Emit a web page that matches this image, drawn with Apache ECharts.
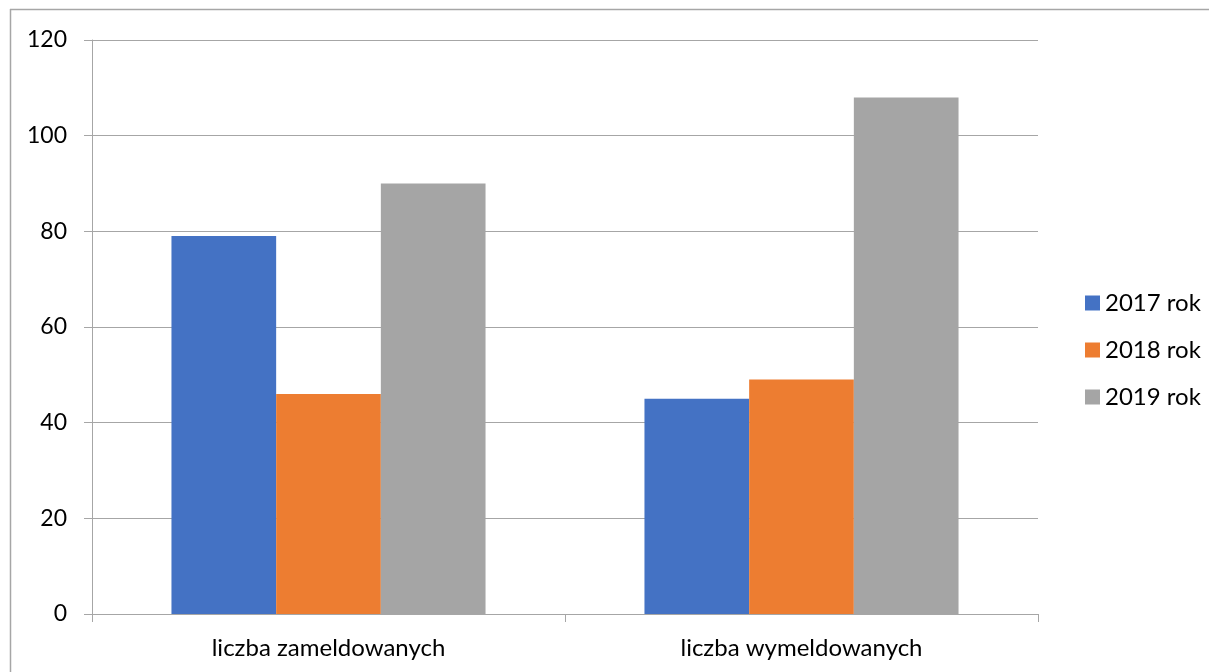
<!DOCTYPE html>
<html>
<head>
<meta charset="utf-8">
<script src="https://cdn.jsdelivr.net/npm/echarts@6/dist/echarts.min.js"></script>
<style>
html,body{margin:0;padding:0;background:#fff;}
#c{width:1209px;height:672px;}
</style>
</head>
<body>
<div id="c"></div>
<script>
const categories = ['liczba zameldowanych', 'liczba wymeldowanych'];
const seriesNames = ['2017 rok', '2018 rok', '2019 rok'];
const values2017 = [79, 45];
const values2018 = [46, 49];
const values2019 = [90, 108];
const yTicks = { min: 0, max: 120, interval: 20 };
const colors = ['#4472C4', '#ED7D31', '#A5A5A5'];

const chart = echarts.init(document.getElementById('c'), null, { renderer: 'canvas' });
const font = 'Lato';
const lineColor = '#a6a6a6';
const dataSets = [values2017, values2018, values2019];

chart.setOption({
  animation: false,
  backgroundColor: '#ffffff',
  textStyle: { fontFamily: font },
  graphic: [
    { type: 'line', shape: { x1: 10, y1: 9.5, x2: 1209, y2: 9.5 }, style: { stroke: '#a6a6a6', lineWidth: 1.5 } },
    { type: 'line', shape: { x1: 10.5, y1: 9, x2: 10.5, y2: 672 }, style: { stroke: '#a6a6a6', lineWidth: 1.5 } }
  ],
  grid: { left: 92, right: 171, top: 40, bottom: 58, containLabel: false },
  legend: {
    orient: 'vertical',
    left: 1080,
    top: 286,
    itemWidth: 15,
    itemHeight: 15,
    itemGap: 23,
    icon: 'rect',
    data: seriesNames,
    textStyle: { fontFamily: font, fontSize: 24, color: '#000' }
  },
  xAxis: {
    type: 'category',
    data: categories,
    axisLine: { show: true, lineStyle: { color: lineColor, width: 1 } },
    axisTick: { show: true, alignWithLabel: false, length: 8, lineStyle: { color: lineColor } },
    axisLabel: { fontFamily: font, fontSize: 24, color: '#000', margin: 22 },
    splitLine: { show: false }
  },
  yAxis: {
    type: 'value',
    min: yTicks.min, max: yTicks.max, interval: yTicks.interval,
    axisLine: { show: true, lineStyle: { color: lineColor, width: 1 } },
    axisTick: { show: true, length: 8, lineStyle: { color: lineColor } },
    axisLabel: { fontFamily: font, fontSize: 23, color: '#000', margin: 25 },
    splitLine: { show: true, lineStyle: { color: lineColor, width: 1 } }
  },
  series: seriesNames.map((n, i) => ({
    name: n,
    type: 'bar',
    data: dataSets[i],
    barGap: '0%',
    barCategoryGap: '33.6%',
    itemStyle: { color: colors[i] }
  }))
});
</script>
</body>
</html>
